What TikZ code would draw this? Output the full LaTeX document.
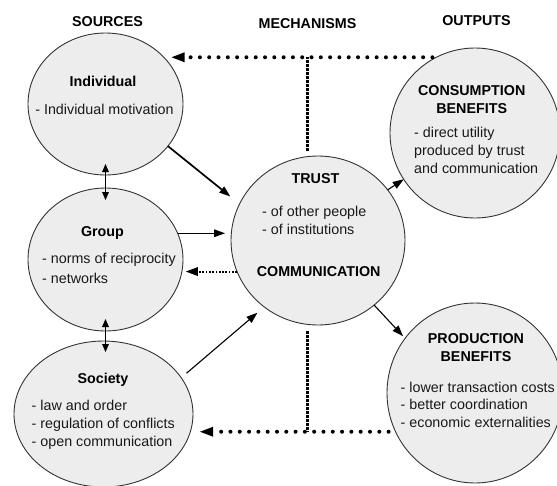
\documentclass[tikz,border=0pt]{standalone}
\usepackage{fontspec}
\setmainfont{Liberation Sans}
\usetikzlibrary{shapes.geometric,arrows.meta}
\begin{document}
\begin{tikzpicture}[x=1pt,y=-1pt,
>={Triangle[length=11pt,width=8pt,line width=0pt]},
blob/.style={
% The shape:
ellipse,
draw=black!80,
line width=0.9pt,
fill=black!7,
inner sep=0pt,
outer sep=0pt
},
heading/.style={
font=\fontsize{14.3}{17}\selectfont\bfseries,
text=black,
inner sep=0pt
},
title/.style={
font=\fontsize{14.3}{18.3}\selectfont\bfseries,
text=black,
align=center,
inner sep=0pt,
anchor=north
},
list/.style={
font=\fontsize{14.3}{18.3}\selectfont,
text=black!90,
align=left,
inner sep=0pt,
anchor=north west
},
link/.style={line width=1.1pt},
pair/.style={>={Triangle[length=8pt,width=7pt,line width=0pt]},<->,line width=1.1pt},
dottip/.style={>={Triangle[length=13pt,width=10pt,line width=0pt]},->},
bigdots/.style={dottip,line width=4pt,dash pattern=on 0pt off 9.3pt,line cap=round},
vdots/.style={line width=2.8pt,dash pattern=on 2.2pt off 1.8pt},
smalldots/.style={>={Triangle[length=12pt,width=9pt,line width=0pt]},->,line width=2pt,dash pattern=on 1.7pt off 1.6pt}
]
\useasboundingbox (0,0) rectangle (557,485);
% Column heads:
\node (sources) [heading] at (107.5,21.5) {SOURCES};
\node (mechanisms) [heading] at (307.5,23.5) {MECHANISMS};
\node (outputs) [heading] at (476.5,20.5) {OUTPUTS};
% Ellipses:
\node (ind) [blob,minimum width=155pt,minimum height=142pt] at (105.5,104) {};
\node (grp) [blob,minimum width=155pt,minimum height=143pt] at (105.5,259.5) {};
\node (soc) [blob,minimum width=179pt,minimum height=146pt] at (103.5,414) {};
\node (trust) [blob,minimum width=174pt,minimum height=169pt] at (318,240.5) {};
\node (cons) [blob,minimum width=170pt,minimum height=170pt] at (475,133) {};
\node (prod) [blob,minimum width=176pt,minimum height=180pt] at (475,393) {};
% Texts:
\node (indtitle) [title] at (103,76) {Individual};
\node (indlist) [list,anchor=north] at (104.5,103.5) {- Individual motivation};
\node (grptitle) [title] at (102.5,226.5) {Group};
\node (grplist) [list,font=\fontsize{14.3}{19.5}\selectfont] at (42,253) {- norms of reciprocity\\- networks};
\node (soctitle) [title] at (103,372.5) {Society};
\node (soclist) [list] at (31.5,399.5) {- law and order\\- regulation of conflicts\\- open communication};
\node (trusttitle) [title] at (315.5,173.5) {TRUST};
\node (trustlist) [list,font=\fontsize{14.3}{18.6}\selectfont] at (262,205.5) {- of other people\\- of institutions};
\node (commtitle) [title] at (318.7,266.5) {COMMUNICATION};
\node (constitle) [title] at (471.7,85) {CONSUMPTION\\BENEFITS};
\node (conslist) [list] at (414,126.5) {- direct utility\\produced by trust\\and communication};
\node (prodtitle) [title,font=\fontsize{14.3}{18}\selectfont\bfseries] at (476,333.3) {PRODUCTION\\BENEFITS};
\node (prodlist) [list,font=\fontsize{14.3}{17.5}\selectfont] at (400.5,381.5) {- lower transaction costs\\- better coordination\\- economic externalities};
% Sources to mechanisms:
\draw [->,line width=1.7pt,shorten >=12pt] (ind.-34) -- (trust.155);
\draw [->,link,shorten >=6pt] (grp.20) -- (grp.20 -| trust.west);
\draw [->,link,shorten <=7pt,shorten >=9pt] (soc.25) -- (trust.231);
\draw [pair,shorten <=-11pt,shorten >=-12pt] (ind.south) -- (grp.north);
\draw [pair,shorten <=-12pt,shorten >=-11pt] (grp.south) -- (grp.south |- soc.north);
% Mechanisms to outputs:
\draw [->,link] (trust.36) -- (cons.213);
\draw [->,link,shorten >=3pt] (trust.-49) -- (prod.142);
% Feedback:
\draw [bigdots,shorten <=4pt,shorten >=8pt] (cons.117) -- (cons.117 -| ind.39);
\draw [vdots,shorten <=6pt] (trust.97) -- (trust.97 |- cons.117);
\draw [smalldots,shorten >=4pt] (trust.201) -- (trust.201 -| grp.-9);
\draw [vdots,shorten <=7pt] (trust.-97) -- (trust.-97 |- prod.206);
\draw [bigdots,shorten <=7pt,shorten >=10pt] (prod.206) -- (prod.206 -| soc.-12);
\end{tikzpicture}
\end{document}
